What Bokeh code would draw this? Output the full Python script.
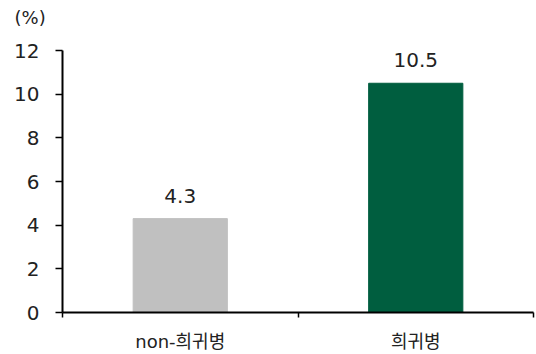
from bokeh.plotting import figure
from bokeh.models import Range1d, FixedTicker, ColumnDataSource, LabelSet
from bokeh.core.properties import value
from bokeh.embed import file_html
from bokeh.resources import INLINE

# Data
categories = ["non-희귀병", "희귀병"]
values = [4.3, 10.5]
bar_colors = ["#C0C0C0", "#005E3F"]
y_ticks = [0, 2, 4, 6, 8, 10, 12]
unit_label = "(%)"

FONT = "DejaVu Sans, Noto Sans CJK KR"
NUM_FONT = "DejaVu Sans"
TEXT_COLOR = "#222222"

centers = [i + 0.5 for i in range(len(categories))]
labels = [f"{v:.1f}" for v in values]

source = ColumnDataSource(dict(x=centers, top=values, color=bar_colors, label=labels))

# the unit label sits on the first of two title lines, so it clears the plot top
p = figure(width=536, height=354, output_backend="svg", toolbar_location=None,
           x_range=Range1d(0, len(categories)), y_range=Range1d(0, 12),
           min_border_left=62, min_border_right=3, min_border_top=50,
           min_border_bottom=40, title=unit_label + "\n ")
p.outline_line_color = None
p.grid.visible = False
p.background_fill_color = "white"
p.border_fill_color = "white"

p.title.align = "left"
p.title.vertical_align = "bottom"
p.title.offset = -48
p.title.standoff = 4
p.title.text_font = NUM_FONT
p.title.text_font_size = "18px"
p.title.text_font_style = "normal"
p.title.text_color = TEXT_COLOR

p.vbar(x="x", top="top", width=0.4, color="color", source=source)

# y axis
ya = p.yaxis[0]
ya.ticker = FixedTicker(ticks=y_ticks, minor_ticks=[])
ya.axis_line_width = 2
ya.axis_line_color = "black"
ya.major_tick_line_color = "black"
ya.major_tick_line_width = 1.5
ya.major_tick_in = 0
ya.major_tick_out = 7
ya.minor_tick_line_color = None
ya.major_label_standoff = 16
ya.major_label_text_font = NUM_FONT
ya.major_label_text_font_size = "20px"
ya.major_label_text_color = TEXT_COLOR

# x axis: labels at category centres, ticks at category boundaries
xa = p.xaxis[0]
xa.ticker = FixedTicker(ticks=centers, minor_ticks=list(range(len(categories) + 1)))
xa.major_label_overrides = {c: name for c, name in zip(centers, categories)}
xa.axis_line_width = 2
xa.axis_line_color = "black"
xa.major_tick_line_color = None
xa.major_tick_in = 0
xa.major_tick_out = 0
xa.minor_tick_line_color = "black"
xa.minor_tick_line_width = 1.5
xa.minor_tick_in = 0
xa.minor_tick_out = 5
xa.major_label_standoff = 13
xa.major_label_text_font = FONT
xa.major_label_text_font_size = "18px"
xa.major_label_text_color = TEXT_COLOR

# value labels above the bars
p.add_layout(LabelSet(x="x", y="top", text="label", source=source,
                      text_align="center", text_baseline="alphabetic",
                      y_offset=16, text_font=value(NUM_FONT),
                      text_font_size=value("20px"),
                      text_color=value(TEXT_COLOR)))

open("out.html", "w").write(file_html(p, INLINE))
